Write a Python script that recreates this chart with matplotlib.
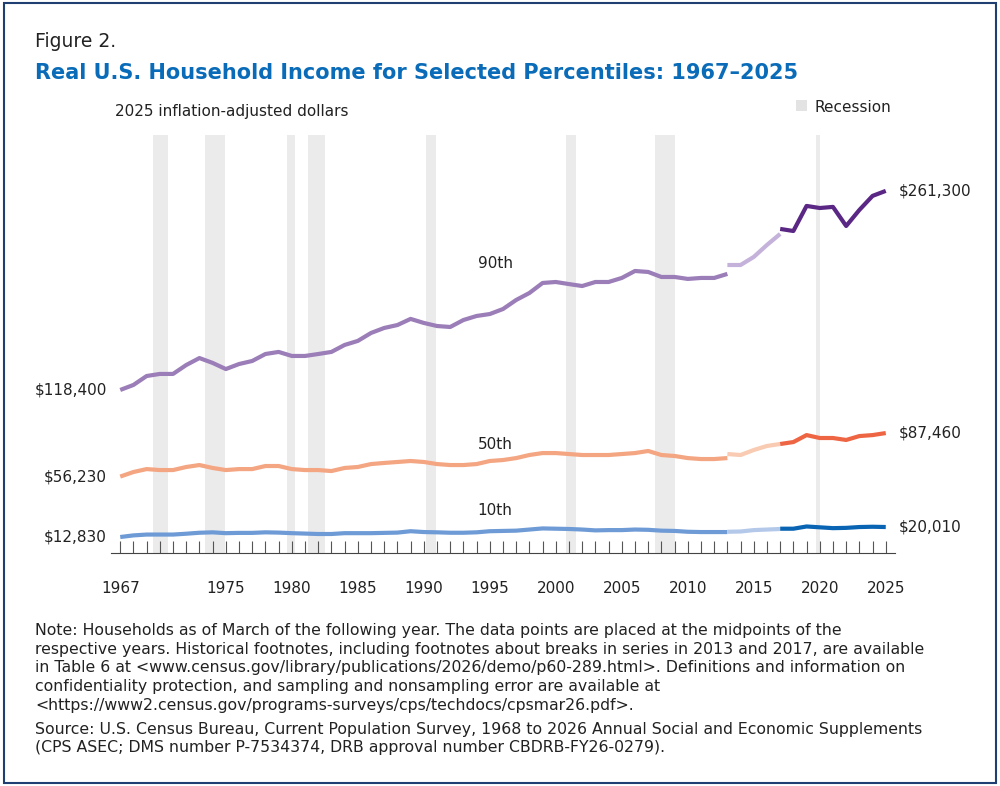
import matplotlib
matplotlib.use("Agg")
import matplotlib.pyplot as plt
from matplotlib.patches import Rectangle

plt.rcParams['font.family'] = ['DejaVu Sans']

years_old = list(range(1967, 2014))
p90_old = [118.4,122.0,128.4,129.9,129.9,136.3,141.3,137.8,133.4,137.0,139.2,144.2,145.7,142.8,142.8,144.2,145.7,150.7,153.6,159.3,162.9,165.0,169.4,166.5,164.3,163.6,168.6,171.5,172.9,176.5,183.0,188.0,195.2,195.9,194.4,193.0,195.9,195.9,198.8,203.8,203.1,199.5,199.5,198.1,198.8,198.8,201.7]
p50_old = [56.23,59.5,61.6,60.9,60.9,63.1,64.5,62.4,60.9,61.6,61.6,63.8,63.8,61.6,60.9,60.9,60.2,62.4,63.1,65.2,66.0,66.7,67.4,66.7,65.2,64.5,64.5,65.2,67.4,68.1,69.5,71.7,73.1,73.1,72.4,71.7,71.7,71.7,72.4,73.1,74.6,71.7,71.0,69.5,68.8,68.8,69.5]
p10_old = [12.83,14.0,14.6,14.6,14.6,15.2,15.9,16.2,15.6,15.8,15.8,16.2,16.0,15.6,15.3,15.0,15.0,15.6,15.6,15.6,15.8,16.0,17.0,16.4,16.2,15.9,15.9,16.2,17.0,17.2,17.4,18.2,19.0,18.8,18.6,18.2,17.6,17.8,17.8,18.2,18.0,17.4,17.2,16.6,16.4,16.4,16.4]
years_mid = list(range(2013, 2018))
p90_mid = [208.1,208.1,213.9,222.5,230.4]
p50_mid = [72.4,71.7,75.3,78.2,79.6]
p10_mid = [16.6,16.8,17.8,18.2,18.6]
years_new = list(range(2017, 2026))
p90_new = [234.0,232.5,250.5,249.0,249.8,236.1,247.6,257.7,261.3]
p50_new = [79.6,81.0,86.0,83.9,83.9,82.5,85.3,86.0,87.46]
p10_new = [18.8,18.8,20.4,19.8,19.2,19.4,20.0,20.2,20.01]

recessions = [(1969.5,1970.6),(1973.4,1974.9),(1979.65,1980.25),(1981.2,1982.5),
              (1990.2,1990.9),(2000.8,2001.5),(2007.5,2009.0),(2019.7,2020.0)]

start_labels = ["$118,400", "$56,230", "$12,830"]
end_labels = ["$261,300", "$87,460", "$20,010"]
series_names = ["90th", "50th", "10th"]
tick_years = [1967,1975,1980,1985,1990,1995,2000,2005,2010,2015,2020,2025]

colors = {
    "90th": ("#9B7DB8", "#C4B2DA", "#5A2784"),
    "50th": ("#F4A582", "#F8CBB2", "#EE6544"),
    "10th": ("#6E9BD6", "#B4C9EA", "#0A64B4"),
}

fig = plt.figure(figsize=(10, 7.86), dpi=100)
fig.patches.append(Rectangle((0.004, 0.004), 0.992, 0.992, transform=fig.transFigure,
                             fill=False, edgecolor="#1F3F73", lw=1.5))
ax = fig.add_axes([0.111, 0.2964, 0.784, 0.532])
ax.set_xlim(1966.3, 2025.7)
ax.set_ylim(1.34, 301.5)

for a, b in recessions:
    ax.axvspan(a, b, color="#EBEBEB", lw=0, zorder=0)

data = {
    "90th": (p90_old, p90_mid, p90_new),
    "50th": (p50_old, p50_mid, p50_new),
    "10th": (p10_old, p10_mid, p10_new),
}
for name, sl, el in zip(series_names, start_labels, end_labels):
    o, m, n = data[name]
    c1, c2, c3 = colors[name]
    ax.plot(years_old, o, color=c1, lw=3, solid_capstyle="butt", zorder=3)
    ax.plot(years_mid, m, color=c2, lw=3, solid_capstyle="butt", zorder=3)
    ax.plot(years_new, n, color=c3, lw=3, solid_capstyle="butt", zorder=3)
    ax.text(1966.0, o[0], sl, ha="right", va="center", fontsize=11, color="#222222")
    ax.text(2026.0, n[-1], el, ha="left", va="center", fontsize=11, color="#222222")

ax.text(1995.4, 209, "90th", ha="center", va="center", fontsize=11, color="#222222")
ax.text(1995.4, 79, "50th", ha="center", va="center", fontsize=11, color="#222222")
ax.text(1995.4, 32, "10th", ha="center", va="center", fontsize=11, color="#222222")

for s in ["top", "right", "left"]:
    ax.spines[s].set_visible(False)
ax.spines["bottom"].set_color("#444444")
ax.set_yticks([])
ax.set_xticks(range(1967, 2026), minor=True)
ax.set_xticks(tick_years)
ax.set_xticklabels([str(y) for y in tick_years], fontsize=11, color="#222222")
ax.tick_params(axis="x", which="both", direction="in", length=9, color="#555555", width=0.8, pad=20)

fig.text(0.035, 0.94, "Figure 2.", fontsize=13.5, color="#222222")
fig.text(0.035, 0.9, "Real U.S. Household Income for Selected Percentiles: 1967\u20132025",
         fontsize=15, fontweight="bold", color="#0A6CB8")
fig.text(0.115, 0.852, "2025 inflation-adjusted dollars", fontsize=11, color="#222222")
fig.patches.append(Rectangle((0.796, 0.859), 0.011, 0.014, transform=fig.transFigure,
                             color="#E3E3E3", lw=0))
fig.text(0.815, 0.857, "Recession", fontsize=11, color="#222222")

note = ("Note: Households as of March of the following year. The data points are placed at the midpoints of the\n"
        "respective years. Historical footnotes, including footnotes about breaks in series in 2013 and 2017, are available\n"
        "in Table 6 at <www.census.gov/library/publications/2026/demo/p60-289.html>. Definitions and information on\n"
        "confidentiality protection, and sampling and nonsampling error are available at\n"
        "<https://www2.census.gov/programs-surveys/cps/techdocs/cpsmar26.pdf>.")
source = ("Source: U.S. Census Bureau, Current Population Survey, 1968 to 2026 Annual Social and Economic Supplements\n"
          "(CPS ASEC; DMS number P-7534374, DRB approval number CBDRB-FY26-0279).")
fig.text(0.035, 0.207, note, fontsize=11.3, color="#222222", va="top", linespacing=1.3)
fig.text(0.035, 0.082, source, fontsize=11.3, color="#222222", va="top", linespacing=1.3)

fig.savefig("out.png", dpi=100)
